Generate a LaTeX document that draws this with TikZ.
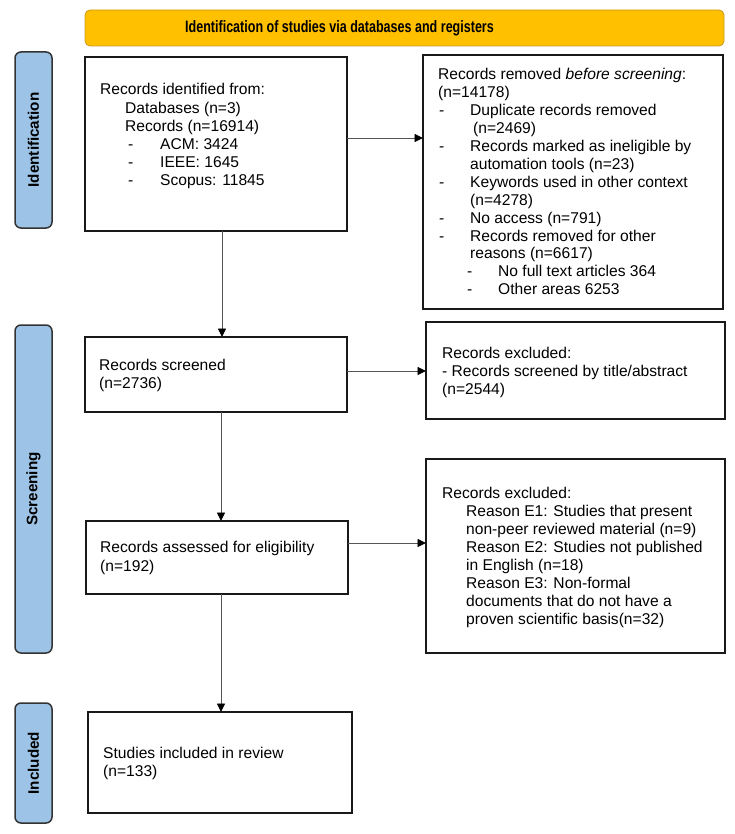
\documentclass[tikz,border=0pt]{standalone}
\usepackage{fontspec}
\setmainfont{Liberation Sans}
\usepackage{graphicx}
\usetikzlibrary{arrows.meta}
\definecolor{hdrfill}{HTML}{FFC000}
\definecolor{hdrline}{HTML}{C99A1E}
\definecolor{sidefill}{HTML}{9DC3E6}
\definecolor{sideline}{HTML}{333333}
\definecolor{arrline}{HTML}{555555}
\tikzset{
  flowbox/.style={draw=black!90, line width=1.5pt, fill=white, inner sep=0pt, outer sep=0pt},
  sidebox/.style={draw=sideline, fill=sidefill, line width=1.5pt, rounded corners=6pt, minimum width=37pt, inner sep=0pt, outer sep=0pt},
  sidetext/.style={rotate=90, font=\fontsize{15.2}{18}\selectfont\bfseries, inner sep=0pt},
  boxtext/.style={anchor=base west, inner sep=0pt, font=\fontsize{15.6}{18.2}\selectfont},
  flowarrow/.style={draw=arrline, line width=0.9pt, -{Triangle[length=8.5pt,width=8pt,color=black]}}
}
\newcommand{\dsh}[1]{\makebox[#1][l]{-}}
\begin{document}
\begin{tikzpicture}[x=1pt,y=-1pt]
\useasboundingbox (0,0) rectangle (735,834);

% header
\node[draw=hdrline, fill=hdrfill, line width=0.8pt, rounded corners=5pt, minimum width=639pt, minimum height=36pt, inner sep=0pt] (hdr) at (404.5,28) {};
\node[inner sep=0pt] (hdrtext) at (339.5,28) {\scalebox{0.76}[1]{\fontsize{16.5}{19}\selectfont\bfseries Identification of studies via databases and registers}};

% side labels
\node[sidebox, minimum height=176pt] (s1) at (33.5,140) {};
\node[sidetext] (s1t) at (s1.center) {Identification};
\node[sidebox, minimum height=328pt] (s2) at (33.5,489) {};
\node[sidetext] (s2t) at (s2.center) {Screening};
\node[sidebox, minimum height=120pt] (s3) at (33.5,763) {};
\node[sidetext] (s3t) at (s3.center) {Included};

% boxes
\node[flowbox, minimum width=262pt, minimum height=174pt] (b1) at (216,144) {};
\node[flowbox, minimum width=300pt, minimum height=254pt] (b2) at (573,182) {};
\node[flowbox, minimum width=262pt, minimum height=75pt] (b3) at (216,374.5) {};
\node[flowbox, minimum width=299pt, minimum height=97pt] (b4) at (575.5,370.5) {};
\node[flowbox, minimum width=262pt, minimum height=73pt] (b5) at (217,557.5) {};
\node[flowbox, minimum width=299pt, minimum height=194pt] (b6) at (575.5,556) {};
\node[flowbox, minimum width=264pt, minimum height=101pt] (b7) at (220,762.5) {};

% texts
\node[boxtext] (t1) at (100,95) {\parbox[t]{240pt}{\baselineskip=18.2pt
Records identified from:\\
\hspace*{25pt}Databases (n=3)\\
\hspace*{25pt}Records (n=16914)\\
\hspace*{28pt}\dsh{32pt}ACM: 3424\\
\hspace*{28pt}\dsh{32pt}IEEE: 1645\\
\hspace*{28pt}\dsh{32pt}Scopus: 11845}};

\node[boxtext] (t2) at (438,80) {\parbox[t]{280pt}{\baselineskip=17.9pt
Records removed \textit{before screening}:\\
(n=14178)\\
\hspace*{1pt}\dsh{31pt}Duplicate records removed\\
\hspace*{35pt}(n=2469)\\
\hspace*{1pt}\dsh{31pt}Records marked as ineligible by\\
\hspace*{32pt}automation tools (n=23)\\
\hspace*{1pt}\dsh{31pt}Keywords used in other context\\
\hspace*{32pt}(n=4278)\\
\hspace*{1pt}\dsh{31pt}No access (n=791)\\
\hspace*{1pt}\dsh{31pt}Records removed for other\\
\hspace*{32pt}reasons (n=6617)\\
\hspace*{29pt}\dsh{31pt}No full text articles 364\\
\hspace*{29pt}\dsh{31pt}Other areas 6253}};

\node[boxtext] (t3) at (99,370) {\parbox[t]{240pt}{\baselineskip=18.2pt
Records screened\\
(n=2736)}};

\node[boxtext] (t4) at (442,358) {\parbox[t]{280pt}{\baselineskip=18.3pt
Records excluded:\\
- Records screened by title/abstract\\
(n=2544)}};

\node[boxtext] (t5) at (100,552) {\parbox[t]{240pt}{\baselineskip=19pt
Records assessed for eligibility\\
(n=192)}};

\node[boxtext] (t6) at (442,498) {\parbox[t]{280pt}{\baselineskip=18.1pt
Records excluded:\\
\hspace*{24pt}Reason E1: Studies that present\\
\hspace*{24pt}non-peer reviewed material (n=9)\\
\hspace*{24pt}Reason E2: Studies not published\\
\hspace*{24pt}in English (n=18)\\
\hspace*{24pt}Reason E3: Non-formal\\
\hspace*{24pt}documents that do not have a\\
\hspace*{24pt}proven scientific basis(n=32)}};

\node[boxtext] (t7) at (103,758) {\parbox[t]{240pt}{\baselineskip=18.5pt
Studies included in review\\
(n=133)}};

% connector helper coordinates
\coordinate (y1) at (0,138);
\coordinate (y3) at (0,371);
\coordinate (y5) at (0,543);
\coordinate (xa) at (222,0);
\coordinate (xb) at (221,0);

\draw[flowarrow] (b1.east |- y1) -- (b2.west |- y1);
\draw[flowarrow] (b1.south -| xa) -- (b3.north -| xa);
\draw[flowarrow] (b3.east |- y3) -- (b4.west |- y3);
\draw[flowarrow] (b3.south -| xb) -- (b5.north -| xb);
\draw[flowarrow] (b5.east |- y5) -- (b6.west |- y5);
\draw[flowarrow] (b5.south -| xb) -- (b7.north -| xb);
\end{tikzpicture}
\end{document}
